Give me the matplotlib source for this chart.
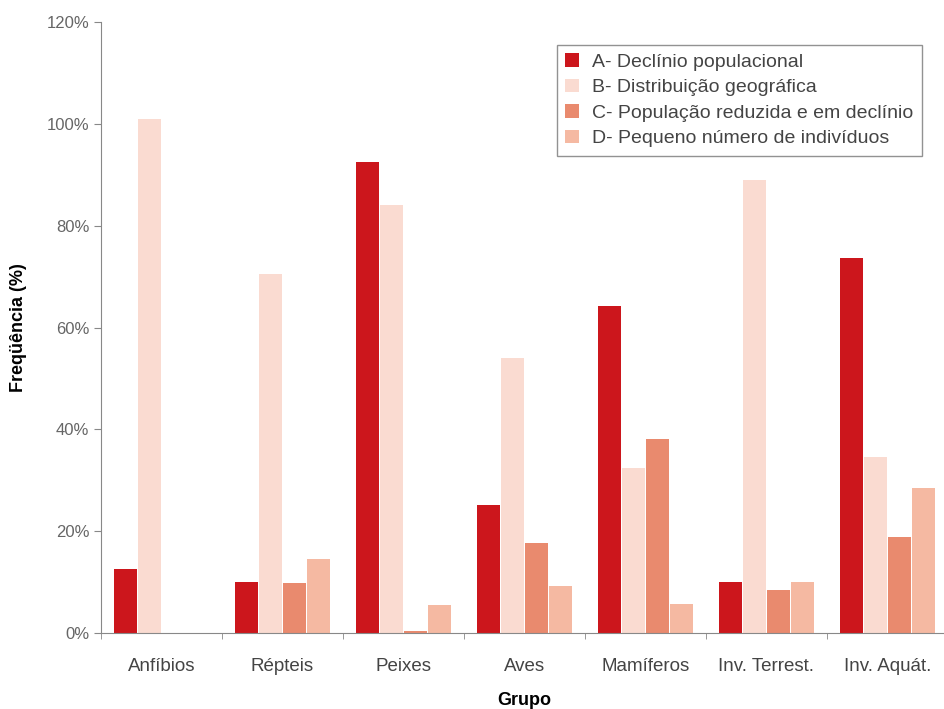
import matplotlib.pyplot as plt
from matplotlib.ticker import FuncFormatter, MultipleLocator
import numpy as np

grupos = ['Anfíbios', 'Répteis', 'Peixes', 'Aves', 'Mamíferos', 'Inv. Terrest.', 'Inv. Aquát.']
series = ['A- Declínio populacional', 'B- Distribuição geográfica',
          'C- População reduzida e em declínio', 'D- Pequeno número de indivíduos']

declinio = [12.5, 10.0, 92.5, 25.2, 64.3, 10.1, 73.7]
distribuicao = [101.0, 70.5, 84.0, 54.0, 32.4, 89.0, 34.6]
reduzida = [0.0, 9.8, 0.5, 17.7, 38.1, 8.5, 18.9]
pequeno = [0.0, 14.5, 5.6, 9.2, 5.7, 10.1, 28.5]

cores = ['#cc161c', '#fadbd1', '#e98a6e', '#f5b9a2']

plt.rcParams['font.family'] = ['Liberation Sans', 'DejaVu Sans']

fig = plt.figure(figsize=(9.45, 7.09), dpi=100)
ax = fig.add_axes([0.107, 0.107, 0.896, 0.862])

x = np.arange(len(grupos))
w = 0.2
offsets = [-1.5 * w, -0.5 * w, 0.5 * w, 1.5 * w]
for vals, cor, nome, off in zip([declinio, distribuicao, reduzida, pequeno], cores, series, offsets):
    ax.bar(x + off, vals, width=w * 0.95, color=cor, label=nome)

ax.set_xlim(-0.5, len(grupos) - 0.5)
ax.set_ylim(0, 120)
ax.yaxis.set_major_locator(MultipleLocator(20))
ax.yaxis.set_major_formatter(FuncFormatter(lambda v, p: f'{int(v)}%'))
ax.set_xticks(x)
ax.set_xticklabels(grupos)
ax.set_xticks(np.arange(-0.5, len(grupos), 1), minor=True)
ax.tick_params(axis='x', which='major', length=0, pad=18, labelsize=13.5, colors='#444444')
ax.tick_params(axis='x', which='minor', length=4, color='#888888')
ax.tick_params(axis='y', length=5, color='#888888', labelsize=12, labelcolor='#666666')

for s in ['top', 'right']:
    ax.spines[s].set_visible(False)
for s in ['left', 'bottom']:
    ax.spines[s].set_color('#888888')

ax.set_ylabel('Freqüência (%)', fontsize=13, fontweight='bold', labelpad=14)
ax.set_xlabel('Grupo', fontsize=13, fontweight='bold', labelpad=12)

leg = ax.legend(loc='upper right', bbox_to_anchor=(0.969, 0.963), fontsize=14, frameon=True,
                fancybox=False, edgecolor='#777777', handlelength=0.7, handleheight=0.7,
                labelspacing=0.4, borderpad=0.45, handletextpad=0.65, borderaxespad=0)
leg.get_frame().set_linewidth(1.0)
for t in leg.get_texts():
    t.set_color('#444444')

fig.savefig('out.png', dpi=100)
